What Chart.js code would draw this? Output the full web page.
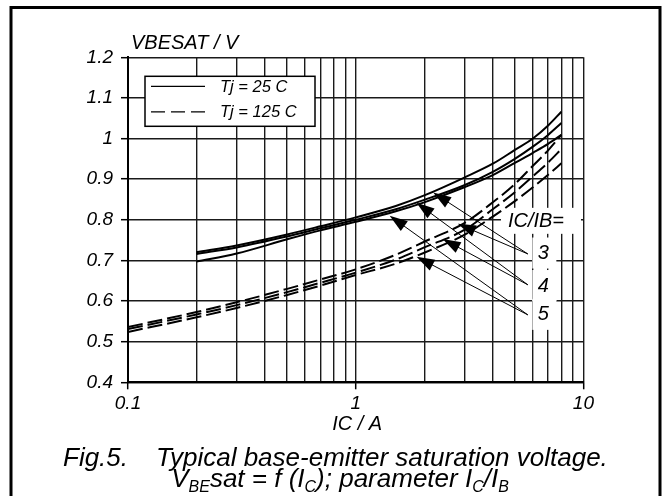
<!DOCTYPE html>
<html lang="en">
<head>
  <meta charset="UTF-8">
  <title>Fig.5 Typical base-emitter saturation voltage</title>
  <script src="https://cdn.jsdelivr.net/npm/chart.js"></script>
  <style>
    html, body { margin: 0; padding: 0; background: #fff; }
    #wrap { width: 669px; height: 496px; }
  </style>
</head>
<body>
<div id="wrap"><canvas id="vbeChart" width="669" height="496"></canvas></div>
<script>
  // collector current, A
  const icSolid = [0.2, 0.3, 0.5, 0.7, 1, 1.5, 2, 3, 4, 5, 6, 7, 8];
  const icDashed = [0.1, 0.2, 0.3, 0.5, 0.7, 1, 1.5, 2, 3, 4, 5, 6, 7, 8];

  // Tj = 25 C, VBEsat in V for IC/IB = 3, 4, 5
  const vbe25Ratio3 = [0.720, 0.737, 0.764, 0.784, 0.806, 0.834, 0.860, 0.904, 0.938, 0.972, 1.000, 1.032, 1.066];
  const vbe25Ratio4 = [0.716, 0.732, 0.759, 0.779, 0.800, 0.826, 0.849, 0.885, 0.918, 0.950, 0.980, 1.009, 1.038];
  const vbe25Ratio5 = [0.697, 0.717, 0.752, 0.774, 0.795, 0.821, 0.843, 0.880, 0.910, 0.940, 0.965, 0.987, 1.009];

  // Tj = 125 C
  const vbe125Ratio3 = [0.536, 0.573, 0.597, 0.630, 0.653, 0.678, 0.714, 0.746, 0.792, 0.843, 0.888, 0.933, 0.971, 1.009];
  const vbe125Ratio4 = [0.531, 0.567, 0.590, 0.622, 0.645, 0.670, 0.702, 0.732, 0.775, 0.826, 0.868, 0.907, 0.941, 0.974];
  const vbe125Ratio5 = [0.524, 0.560, 0.583, 0.615, 0.638, 0.664, 0.692, 0.719, 0.763, 0.808, 0.846, 0.880, 0.911, 0.939];

  // axis ticks
  const icGrid = [0.1, 0.2, 0.3, 0.4, 0.5, 0.6, 0.7, 0.8, 0.9, 1, 2, 3, 4, 5, 6, 7, 8, 9, 10];
  const icTickLabels = [0.1, 1, 10];

  // IC/IB annotation: label anchors and arrow tips (data units)
  const ratioLabels = ['3', '4', '5'];
  const ratioAnchors = [[5.7, 0.716], [5.7, 0.640], [5.7, 0.566]];
  const ratioTips25 = [[2.19, 0.867], [1.85, 0.842], [1.41, 0.810]];
  const ratioTips125 = [[2.81, 0.790], [2.41, 0.753], [1.85, 0.709]];
  const ratioTextPos = [[6.67, 0.717], [6.67, 0.637], [6.67, 0.566]];
  const ratioHeaderPos = [6.19, 0.795];

  const fam = '"Liberation Sans", Arial, Helvetica, sans-serif';

  function pts(xs, ys) {
    return xs.map((v, i) => ({ x: v, y: ys[i] }));
  }

  function curve(xs, ys, dashed) {
    return {
      data: pts(xs, ys),
      borderColor: '#000',
      borderWidth: 2,
      borderDash: dashed ? [15, 5] : [],
      pointRadius: 0,
      fill: false,
      cubicInterpolationMode: 'monotone'
    };
  }

  function arrow(ctx, x0, y0, x1, y1) {
    const a = Math.atan2(y1 - y0, x1 - x0);
    const len = 18, hw = 6;
    ctx.beginPath();
    ctx.moveTo(x0, y0);
    ctx.lineTo(x1 - Math.cos(a) * len * 0.8, y1 - Math.sin(a) * len * 0.8);
    ctx.stroke();
    ctx.beginPath();
    ctx.moveTo(x1, y1);
    ctx.lineTo(x1 - Math.cos(a) * len + Math.sin(a) * hw, y1 - Math.sin(a) * len - Math.cos(a) * hw);
    ctx.lineTo(x1 - Math.cos(a) * len - Math.sin(a) * hw, y1 - Math.sin(a) * len + Math.cos(a) * hw);
    ctx.closePath();
    ctx.fill();
  }

  // draws a run of [text, isSubscript] pieces, centred on cx
  function richText(ctx, parts, cx, base, size) {
    const sub = Math.round(size * 0.62);
    let w = 0;
    parts.forEach(p => {
      ctx.font = 'italic ' + (p[1] ? sub : size) + 'px ' + fam;
      w += ctx.measureText(p[0]).width;
    });
    let xx = cx - w / 2;
    parts.forEach(p => {
      ctx.font = 'italic ' + (p[1] ? sub : size) + 'px ' + fam;
      ctx.fillText(p[0], xx, base + (p[1] ? 5 : 0));
      xx += ctx.measureText(p[0]).width;
    });
  }

  const decor = {
    id: 'decor',
    beforeDatasetsDraw(chart) {
      const { ctx, scales: { x, y } } = chart;
      ctx.save();
      ctx.fillStyle = '#fff';
      // white patches behind the IC/IB labels
      const hx = x.getPixelForValue(ratioHeaderPos[0]);
      const hy = y.getPixelForValue(ratioHeaderPos[1]);
      ctx.fillRect(hx - 35, hy - 14, 80, 26);
      ratioTextPos.forEach(p => {
        const px = x.getPixelForValue(p[0]);
        const py = y.getPixelForValue(p[1]);
        ctx.fillRect(px - 11, py - 16, 24, 31);
      });
      ctx.restore();
    },
    afterDatasetsDraw(chart) {
      const { ctx, chartArea: ca, scales: { x, y } } = chart;
      ctx.save();

      // legend box
      const lx = ca.left + 17, ly = ca.top + 19;
      ctx.fillStyle = '#fff';
      ctx.fillRect(lx, ly, 170, 50);
      ctx.strokeStyle = '#000';
      ctx.lineWidth = 1.5;
      ctx.strokeRect(lx, ly, 170, 50);
      ctx.lineWidth = 1.3;
      ctx.beginPath();
      ctx.moveTo(lx + 6, ly + 10);
      ctx.lineTo(lx + 60, ly + 10);
      ctx.stroke();
      ctx.setLineDash([14, 6]);
      ctx.beginPath();
      ctx.moveTo(lx + 6, ly + 35.5);
      ctx.lineTo(lx + 60, ly + 35.5);
      ctx.stroke();
      ctx.setLineDash([]);
      ctx.fillStyle = '#000';
      ctx.font = 'italic 16.5px ' + fam;
      ctx.textBaseline = 'middle';
      ctx.textAlign = 'left';
      ctx.fillText('Tj = 25 C', lx + 75, ly + 11);
      ctx.fillText('Tj = 125 C', lx + 75, ly + 36);

      // arrows
      ctx.lineWidth = 1;
      ratioAnchors.forEach((a, i) => {
        const ax = x.getPixelForValue(a[0]), ay = y.getPixelForValue(a[1]);
        [ratioTips25[i], ratioTips125[i]].forEach(t => {
          arrow(ctx, ax, ay, x.getPixelForValue(t[0]), y.getPixelForValue(t[1]));
        });
      });

      // IC/IB labels
      ctx.font = 'italic 20px ' + fam;
      ctx.textAlign = 'center';
      ctx.fillText('IC/IB=', x.getPixelForValue(ratioHeaderPos[0]), y.getPixelForValue(ratioHeaderPos[1]));
      ratioTextPos.forEach((p, i) => {
        ctx.fillText(ratioLabels[i], x.getPixelForValue(p[0]), y.getPixelForValue(p[1]));
      });
      ctx.restore();
    },
    afterDraw(chart) {
      const { ctx, scales: { x } } = chart;
      ctx.save();
      ctx.fillStyle = '#000';
      ctx.textBaseline = 'alphabetic';

      // axis titles
      ctx.font = 'italic 20px ' + fam;
      ctx.textAlign = 'left';
      ctx.fillText('VBESAT / V', 131, 48.5);
      ctx.textAlign = 'center';
      ctx.fillText('IC / A', x.getPixelForValue(1) + 1.5, 430);

      // caption
      ctx.font = 'italic 26px ' + fam;
      ctx.textAlign = 'left';
      ctx.fillText('Fig.5.', 63, 466);
      ctx.fillText('Typical base-emitter saturation voltage.', 156, 466);
      richText(ctx, [['V', false], ['BE', true], ['sat = f (I', false], ['C', true],
        ['); parameter I', false], ['C', true], ['/I', false], ['B', true]], 340, 487, 26);

      // outer frame
      ctx.strokeStyle = '#000';
      ctx.lineWidth = 3;
      ctx.beginPath();
      ctx.moveTo(11, 520);
      ctx.lineTo(11, 7.5);
      ctx.lineTo(660, 7.5);
      ctx.lineTo(660, 520);
      ctx.stroke();
      ctx.restore();
    }
  };

  new Chart(document.getElementById('vbeChart'), {
    type: 'line',
    data: {
      datasets: [
        curve(icSolid, vbe25Ratio3, false),
        curve(icSolid, vbe25Ratio4, false),
        curve(icSolid, vbe25Ratio5, false),
        curve(icDashed, vbe125Ratio3, true),
        curve(icDashed, vbe125Ratio4, true),
        curve(icDashed, vbe125Ratio5, true)
      ]
    },
    options: {
      responsive: false,
      animation: false,
      devicePixelRatio: 1,
      layout: { padding: { top: 57.3, right: 85.6, left: 0, bottom: 0 } },
      plugins: { legend: { display: false }, tooltip: { enabled: false } },
      scales: {
        x: {
          type: 'logarithmic',
          min: 0.1,
          max: 10,
          afterBuildTicks(s) { s.ticks = icGrid.map(v => ({ value: v })); },
          afterFit(s) { s.height = 113.7; },
          ticks: {
            autoSkip: false,
            maxRotation: 0,
            padding: 3,
            color: '#000',
            font: { family: fam, size: 19, style: 'italic' },
            callback: v => icTickLabels.includes(v) ? String(v) : ''
          },
          grid: {
            color: '#1a1a1a',
            lineWidth: 1.4,
            tickLength: 7,
            tickWidth: 1.5,
            tickColor: c => (c.tick && icTickLabels.includes(c.tick.value)) ? '#000' : 'rgba(0,0,0,0)'
          },
          border: { display: true, color: '#000', width: 2 }
        },
        y: {
          type: 'linear',
          min: 0.4,
          max: 1.2,
          afterFit(s) { s.width = 128; },
          ticks: {
            stepSize: 0.1,
            padding: 8,
            color: '#000',
            font: { family: fam, size: 19, style: 'italic' },
            callback: v => String(parseFloat(v.toFixed(1)))
          },
          grid: { color: '#1a1a1a', lineWidth: 1.4, tickLength: 7, tickColor: '#000', tickWidth: 1.5 },
          border: { display: true, color: '#000', width: 2 }
        }
      }
    },
    plugins: [decor]
  });
</script>
</body>
</html>
